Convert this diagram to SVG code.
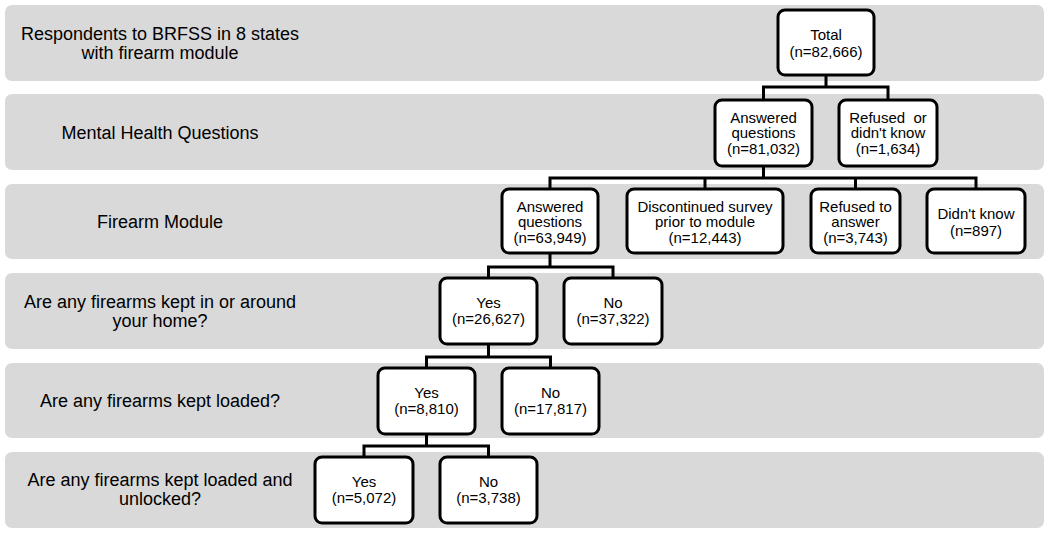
<svg xmlns="http://www.w3.org/2000/svg" width="1050" height="534" viewBox="0 0 1050 534">
<style>
.band{fill:#d9d9d9;}
.lbl{font-family:"Liberation Sans",Arial,sans-serif;font-size:18px;fill:#000;text-anchor:middle;}
.box{fill:#fff;stroke:#000;stroke-width:3;}
.t{font-family:"Liberation Sans",Arial,sans-serif;font-size:15px;fill:#000;text-anchor:middle;white-space:pre;}
.c{fill:none;stroke:#000;stroke-width:3;stroke-linejoin:miter;stroke-linecap:square;}
</style>
<rect width="1050" height="534" fill="#fff"/>
<g id="bands">
<rect class="band" x="5" y="5" width="1039" height="76" rx="7"/>
<rect class="band" x="5" y="94" width="1039" height="76" rx="7"/>
<rect class="band" x="5" y="184" width="1039" height="75" rx="7"/>
<rect class="band" x="5" y="273" width="1039" height="76" rx="7"/>
<rect class="band" x="5" y="363" width="1039" height="75" rx="7"/>
<rect class="band" x="5" y="452" width="1039" height="76" rx="7"/>
</g>
<g id="row-labels">
<text class="lbl" x="160" y="39.5">Respondents to BRFSS in 8 states</text>
<text class="lbl" x="160" y="58.5">with firearm module</text>
<text class="lbl" x="160" y="138.5">Mental Health Questions</text>
<text class="lbl" x="160" y="228">Firearm Module</text>
<text class="lbl" x="160" y="308">Are any firearms kept in or around</text>
<text class="lbl" x="160" y="326.5">your home?</text>
<text class="lbl" x="160" y="406.5">Are any firearms kept loaded?</text>
<text class="lbl" x="160" y="486">Are any firearms kept loaded and</text>
<text class="lbl" x="160" y="505">unlocked?</text>
</g>
<g id="connectors">
<path class="c" d="M826,75V87M763.5,87H888M763.5,87V100M888,87V100"/>
<path class="c" d="M763.5,166V178M550,178H976M550,178V189M705,178V189M855.5,178V189M976,178V189"/>
<path class="c" d="M550,253V267M488.5,267H613M488.5,267V278M613,267V278"/>
<path class="c" d="M488.5,344V357M426.5,357H550.5M426.5,357V368M550.5,357V368"/>
<path class="c" d="M426.5,434V446M364,446H488.5M364,446V457M488.5,446V457"/>
</g>
<g id="n-total">
<rect class="box" x="778" y="10" width="96" height="65" rx="7"/>
<text class="t" x="826" y="40">Total</text>
<text class="t" x="826" y="57">(n=82,666)</text>
</g>
<g id="n-mh-answered">
<rect class="box" x="715" y="100" width="97" height="66" rx="7"/>
<text class="t" x="763.5" y="122.5">Answered</text>
<text class="t" x="763.5" y="138">questions</text>
<text class="t" x="763.5" y="153.5">(n=81,032)</text>
</g>
<g id="n-mh-refused">
<rect class="box" x="839" y="100" width="98" height="66" rx="7"/>
<text class="t" x="888" y="122.5" xml:space="preserve">Refused  or</text>
<text class="t" x="888" y="138">didn't know</text>
<text class="t" x="888" y="153.5">(n=1,634)</text>
</g>
<g id="n-fm-answered">
<rect class="box" x="502" y="189" width="96" height="64" rx="7"/>
<text class="t" x="550" y="211.5">Answered</text>
<text class="t" x="550" y="227">questions</text>
<text class="t" x="550" y="242.5">(n=63,949)</text>
</g>
<g id="n-fm-discontinued">
<rect class="box" x="627" y="189" width="156" height="64" rx="7"/>
<text class="t" x="705" y="211.5">Discontinued survey</text>
<text class="t" x="705" y="227">prior to module</text>
<text class="t" x="705" y="242.5">(n=12,443)</text>
</g>
<g id="n-fm-refused">
<rect class="box" x="811" y="189" width="89" height="64" rx="7"/>
<text class="t" x="855.5" y="211.5">Refused to</text>
<text class="t" x="855.5" y="227">answer</text>
<text class="t" x="855.5" y="242.5">(n=3,743)</text>
</g>
<g id="n-fm-dontknow">
<rect class="box" x="927" y="189" width="98" height="64" rx="7"/>
<text class="t" x="976" y="218.5">Didn't know</text>
<text class="t" x="976" y="235.5">(n=897)</text>
</g>
<g id="n-home-yes">
<rect class="box" x="440" y="278" width="97" height="66" rx="7"/>
<text class="t" x="488.5" y="308">Yes</text>
<text class="t" x="488.5" y="324">(n=26,627)</text>
</g>
<g id="n-home-no">
<rect class="box" x="564" y="278" width="98" height="66" rx="7"/>
<text class="t" x="613" y="308">No</text>
<text class="t" x="613" y="324">(n=37,322)</text>
</g>
<g id="n-loaded-yes">
<rect class="box" x="378" y="368" width="97" height="66" rx="7"/>
<text class="t" x="426.5" y="398">Yes</text>
<text class="t" x="426.5" y="414">(n=8,810)</text>
</g>
<g id="n-loaded-no">
<rect class="box" x="502" y="368" width="97" height="66" rx="7"/>
<text class="t" x="550.5" y="398">No</text>
<text class="t" x="550.5" y="414">(n=17,817)</text>
</g>
<g id="n-unlocked-yes">
<rect class="box" x="315" y="457" width="98" height="66" rx="7"/>
<text class="t" x="364" y="487">Yes</text>
<text class="t" x="364" y="503">(n=5,072)</text>
</g>
<g id="n-unlocked-no">
<rect class="box" x="440" y="457" width="97" height="66" rx="7"/>
<text class="t" x="488.5" y="487">No</text>
<text class="t" x="488.5" y="503">(n=3,738)</text>
</g>
</svg>
